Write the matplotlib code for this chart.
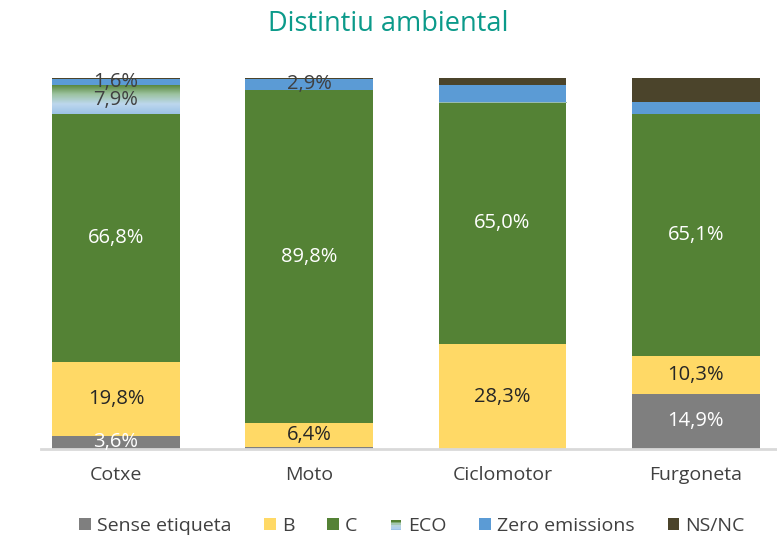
import numpy as np
import matplotlib.pyplot as plt
from matplotlib.patches import Rectangle
from matplotlib.legend_handler import HandlerBase
from matplotlib.colors import LinearSegmentedColormap

plt.rcParams['font.family'] = ['Open Sans', 'DejaVu Sans']

# dades (percentatges)
categories = ['Cotxe', 'Moto', 'Ciclomotor', 'Furgoneta']
sense_etiqueta = [3.6, 0.5, 0.0, 14.9]
b_vals = [19.8, 6.4, 28.3, 10.3]
c_vals = [66.8, 89.8, 65.0, 65.1]
eco_vals = [7.9, 0.1, 0.1, 0.1]
zero_vals = [1.6, 2.9, 4.6, 3.0]
nsnc_vals = [0.3, 0.3, 2.0, 6.6]

series = ['Sense etiqueta', 'B', 'C', 'ECO', 'Zero emissions', 'NS/NC']
values = [sense_etiqueta, b_vals, c_vals, eco_vals, zero_vals, nsnc_vals]
colors = ['#7f7f7f', '#ffd966', '#548235', '#8fb98a', '#5b9bd5', '#4b442b']
label_colors = ['white', '#262626', 'white', '#404040', '#404040', 'white']
# quines etiquetes es veuen a la imatge
show_label = [
    [True, False, False, True],
    [True, True, True, True],
    [True, True, True, True],
    [True, False, False, False],
    [True, True, False, False],
    [False, False, False, False],
]

# degradat de baix (blau clar) a dalt (verd)
eco_cmap = LinearSegmentedColormap.from_list('eco', ['#9dc3e6', '#bdd7ee', '#9cc3a0', '#548235'])


class GradientHandler(HandlerBase):
    def create_artists(self, legend, orig_handle, xdescent, ydescent, width, height, fontsize, trans):
        arts = []
        n = 6
        cols = eco_cmap(np.linspace(1, 0, n))
        s = height * 0.85
        x0 = xdescent + (width - s) / 2
        for i in range(n):
            r = Rectangle((x0 - xdescent, -ydescent + s - (i + 1) * s / n), s, s / n,
                          facecolor=cols[i], edgecolor='none', transform=trans)
            arts.append(r)
        return arts


fig = plt.figure(figsize=(7.77, 5.38), dpi=100)
ax = fig.add_axes([0.0, 1 - 449 / 538, 1.0, (449 - 78) / 538])

x = np.arange(len(categories))
width = 0.66
bottom = np.zeros(len(categories))
for s, vals, col, lc, show in zip(series, values, colors, label_colors, show_label):
    vals = np.array(vals)
    bars = ax.bar(x, vals, width, bottom=bottom, color=col, label=s, zorder=2)
    if s == 'ECO':
        # farciment en degradat
        for bar, v, b0 in zip(bars, vals, bottom):
            if v <= 0:
                continue
            bar.set_facecolor('none')
            grad = np.linspace(0, 1, 50).reshape(-1, 1)
            ax.imshow(grad, cmap=eco_cmap, aspect='auto', zorder=2, origin='lower',
                      extent=[bar.get_x(), bar.get_x() + width, b0, b0 + v])
    for xi, v, b0, sh in zip(x, vals, bottom, show):
        if sh:
            ax.text(xi, b0 + v / 2, f'{v:.1f}%'.replace('.', ','), ha='center', va='center',
                    color=lc, fontsize=14.5, zorder=4)
    bottom += vals

# restaurar límits després de imshow
ax.set_xlim(-0.6, 3.42)
ax.set_ylim(0, 100)
for sp in ['top', 'right', 'left']:
    ax.spines[sp].set_visible(False)
ax.spines['bottom'].set_color('#d9d9d9')
ax.spines['bottom'].set_linewidth(2)
ax.spines['bottom'].set_bounds(-0.39, 3.42)
ax.set_yticks([])
ax.set_xticks(x)
ax.set_xticklabels(categories, fontsize=14, color='#404040')
ax.tick_params(axis='x', length=0, pad=12)

fig.text(0.5, 0.955, 'Distintiu ambiental', ha='center', va='center',
         fontsize=19.5, color='#0b9a8a')

handles, labels = ax.get_legend_handles_labels()
eco_idx = labels.index('ECO')
handler_map = {handles[eco_idx]: GradientHandler()}
fig.legend(handles, labels, loc='center', bbox_to_anchor=(0.53, 0.022), ncol=6,
           frameon=False, fontsize=14, handlelength=0.6, handleheight=0.6,
           handletextpad=0.3, columnspacing=1.7, handler_map=handler_map,
           labelcolor='#404040')

fig.savefig('out.png', dpi=100)
